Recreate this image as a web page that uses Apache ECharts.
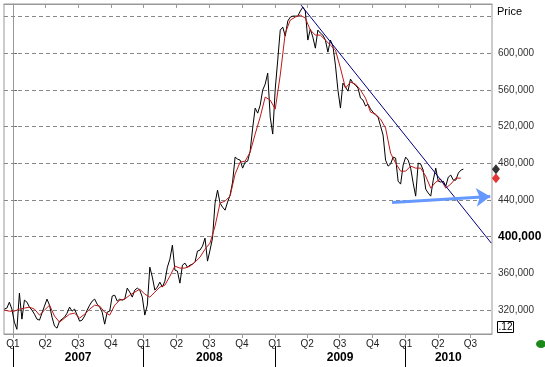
<!DOCTYPE html>
<html><head><meta charset="utf-8">
<script src="https://cdn.jsdelivr.net/npm/echarts@6/dist/echarts.min.js"></script>
<style>html,body{margin:0;padding:0;background:#fff}#c{width:545px;height:367px}</style>
</head><body><div id="c"></div>
<script>
// ---- data ----
const firstWeek = '2006-12-08';
const weekStepDays = 7;
const priceValues = [
321100,322200,328700,321100,306900,299100,338500,310200,330900,328700,
323300,320000,315600,310200,309100,316700,324400,332000,325400,312400,
302600,300400,308000,310200,312400,316700,323300,318900,321100,314600,
308000,309100,313500,320000,325400,329800,332000,326500,323300,317800,
304700,317800,318900,335300,336300,329800,332000,330900,332000,344000,
339600,334200,341800,344000,341800,334200,314600,325400,366800,356000,
341800,345100,350500,345100,351600,366800,375600,390800,363600,362500,
349400,369000,371200,366800,369000,370100,372300,384300,385400,389700,
398400,373400,385400,398400,436600,450700,436600,432200,428900,437700,
445300,459500,486700,484500,483400,474700,481200,482300,493200,518300,
540100,534600,543300,559700,566200,578200,530300,511800,560800,592400,
625100,628300,618500,634900,639200,640300,640300,640300,645800,650100,
645800,614200,626200,617400,605400,625100,621800,619600,614200,601100,
614200,607600,586900,559700,540100,567300,563000,558600,571700,567300,
565100,561900,551000,548800,542300,544400,539000,535700,532500,530300,
520500,510700,483400,476900,479100,486700,485600,460500,457300,478000,
486700,483400,474700,458400,444200,480200,479100,472500,451800,447500,
444200,461600,474700,460500,459500,460500,455100,464900,467100,461600,
461600,469300,472500,473600
];
const maStepDays = 14;
const maValues = [
320000,318900,318900,321100,322200,323300,321100,314600,320000,325400,
313500,306900,311300,315600,316700,311300,315600,321100,325400,324400,
317800,314600,325400,330900,332000,336300,339600,342900,337400,334200,
339600,345100,347200,357000,367900,365800,365800,367900,372300,377700,
386400,393000,411500,436600,438800,444200,468200,481200,482300,492100,
511800,530300,552100,548800,539000,576000,621800,636000,639200,641400,
638100,625100,619600,619600,614200,608700,603300,583700,561900,568400,
566200,559700,551000,535700,533500,528100,518300,491000,480200,471400,
471400,476900,474700,474700,466000,452900,459500,462700,452900,457300,
463800,463800
];
const quarterDates = ['2007-01-01','2007-04-01','2007-07-01','2007-10-01',
  '2008-01-01','2008-04-01','2008-07-01','2008-10-01',
  '2009-01-01','2009-04-01','2009-07-01','2009-10-01',
  '2010-01-01','2010-04-01','2010-07-01'];
const quarterNames = ['Q1','Q2','Q3','Q4','Q1','Q2','Q3','Q4','Q1','Q2','Q3','Q4','Q1','Q2','Q3'];
const yearStartDates = ['2007-01-01','2008-01-01','2009-01-01','2010-01-01'];
const yearLabelDates = ['2007-07-02','2008-07-02','2009-07-02','2010-04-30'];
const yearNames = ['2007','2008','2009','2010'];
const priceTicks = [320000,360000,400000,440000,480000,520000,560000,600000];
const gridLevels = [320000,360000,400000,440000,480000,520000,560000,600000,640000];
const trendLinePts = [['2009-03-15',652300],['2010-08-28',393000]];
const arrowPts = [['2009-11-24',437300],['2010-08-25',443700]];
const xRange = ['2006-12-07','2010-08-30'];
const yRange = [294000, 653500];
const lastMarkerDate = '2010-09-10';

// ---- helpers ----
const D0 = Date.UTC(2007,0,1);
function dayOf(s){const p=s.split('-').map(Number);return (Date.UTC(p[0],p[1]-1,p[2])-D0)/86400000;}
const start = dayOf(firstWeek);
const priceData = priceValues.map((v,i)=>[start+i*weekStepDays, v]);
const maData = maValues.map((v,i)=>[start+i*maStepDays, v]);
const qDays = quarterDates.map(dayOf);
const qMap = {}; qDays.forEach((d,i)=>qMap[d]=quarterNames[i]);
const yLabDays = yearLabelDates.map(dayOf);
const yMap = {}; yLabDays.forEach((d,i)=>yMap[d]=yearNames[i]);
const fmt = v => String(v).replace(/\B(?=(\d{3})+(?!\d))/g, ',');
const FONT = 'Liberation Sans, Arial, sans-serif';

const chart = echarts.init(document.getElementById('c'), null, {renderer:'canvas'});
chart.setOption({
  animation:false,
  backgroundColor:'#fff',
  grid:{left:4,right:53,top:4,bottom:33,show:true,borderColor:'#999',borderWidth:1,backgroundColor:'transparent'},
  xAxis:[
    {type:'value',min:dayOf(xRange[0]),max:dayOf(xRange[1]),position:'bottom',
     axisLine:{show:true,lineStyle:{color:'#999'}},
     axisTick:{show:true,customValues:qDays,length:4,lineStyle:{color:'#999'}},
     axisLabel:{customValues:qDays,formatter:v=>qMap[v]||'',fontSize:10,fontFamily:FONT,color:'#222',margin:5},
     splitLine:{show:false}},
    {type:'value',min:dayOf(xRange[0]),max:dayOf(xRange[1]),position:'bottom',offset:12,
     axisLine:{show:false},
     axisTick:{show:true,customValues:yearStartDates.map(dayOf),length:22,lineStyle:{color:'#000',width:1}},
     axisLabel:{customValues:yLabDays,formatter:v=>yMap[v]||'',fontSize:12,fontWeight:'bold',fontFamily:FONT,color:'#000',margin:6},
     splitLine:{show:false}},
    {type:'value',min:dayOf(xRange[0]),max:dayOf(xRange[1]),position:'top',
     axisLine:{show:true,lineStyle:{color:'#999'}},
     axisTick:{show:true,inside:true,customValues:qDays,length:4,lineStyle:{color:'#999'}},
     axisLabel:{show:false},splitLine:{show:false}}
  ],
  yAxis:[{type:'value',position:'right',min:yRange[0],max:yRange[1],
    axisLine:{show:true,lineStyle:{color:'#999'}},
    axisTick:{show:true,customValues:priceTicks,length:4,lineStyle:{color:'#666'}},
    axisLabel:{customValues:priceTicks,margin:6,fontSize:10,fontFamily:FONT,color:'#333',
      formatter:v=>v===400000?'{b|'+fmt(v)+'}':fmt(v),
      rich:{b:{fontWeight:'bold',fontSize:12,color:'#000',fontFamily:FONT}}},
    splitLine:{show:false}}],
  series:[
    {type:'line',name:'grid',data:[],silent:true,z:1,
     markLine:{silent:true,symbol:'none',z:1,label:{show:false},
       lineStyle:{color:'#888',type:[4,3],width:1},
       data:gridLevels.map(v=>({yAxis:v}))}},
    {type:'line',name:'Price',data:priceData,showSymbol:false,z:3,
     lineStyle:{color:'#000',width:1}},
    {type:'line',name:'MA',data:maData,showSymbol:false,z:4,
     lineStyle:{color:'#c01818',width:1}},
    {type:'lines',coordinateSystem:'cartesian2d',z:5,silent:true,
     lineStyle:{color:'#000080',width:1,opacity:1},
     data:[{coords:trendLinePts.map(p=>[dayOf(p[0]),p[1]])}]},
    {type:'lines',coordinateSystem:'cartesian2d',z:6,silent:true,
     symbol:['none','arrow'],symbolSize:14,
     lineStyle:{color:'#6699ff',width:3,opacity:1},
     data:[{coords:arrowPts.map(p=>[dayOf(p[0]),p[1]])}]},
    {type:'scatter',clip:false,z:7,symbol:'diamond',symbolSize:[8,10],
     data:[{value:[dayOf(lastMarkerDate),priceValues[priceValues.length-1]],itemStyle:{color:'#000'}},
           {value:[dayOf(lastMarkerDate),maValues[maValues.length-1]],itemStyle:{color:'#e00000'}}]}
  ],
  graphic:[
    {type:'text',left:497,top:6,style:{text:'Price',fontSize:11,fontFamily:FONT,fill:'#000'}},
    {type:'rect',shape:{x:497.5,y:321.5,width:16,height:11},style:{fill:'#fff',stroke:'#000',lineWidth:1}},
    {type:'text',x:505.5,y:327,style:{text:'.12',fontSize:10,fontFamily:FONT,fill:'#000',align:'center',verticalAlign:'middle'}},
    {type:'circle',shape:{cx:541,cy:344,r:5},scaleY:0.8,originY:344,originX:541,style:{fill:'#1b8a1b'}}
  ]
});
</script></body></html>
